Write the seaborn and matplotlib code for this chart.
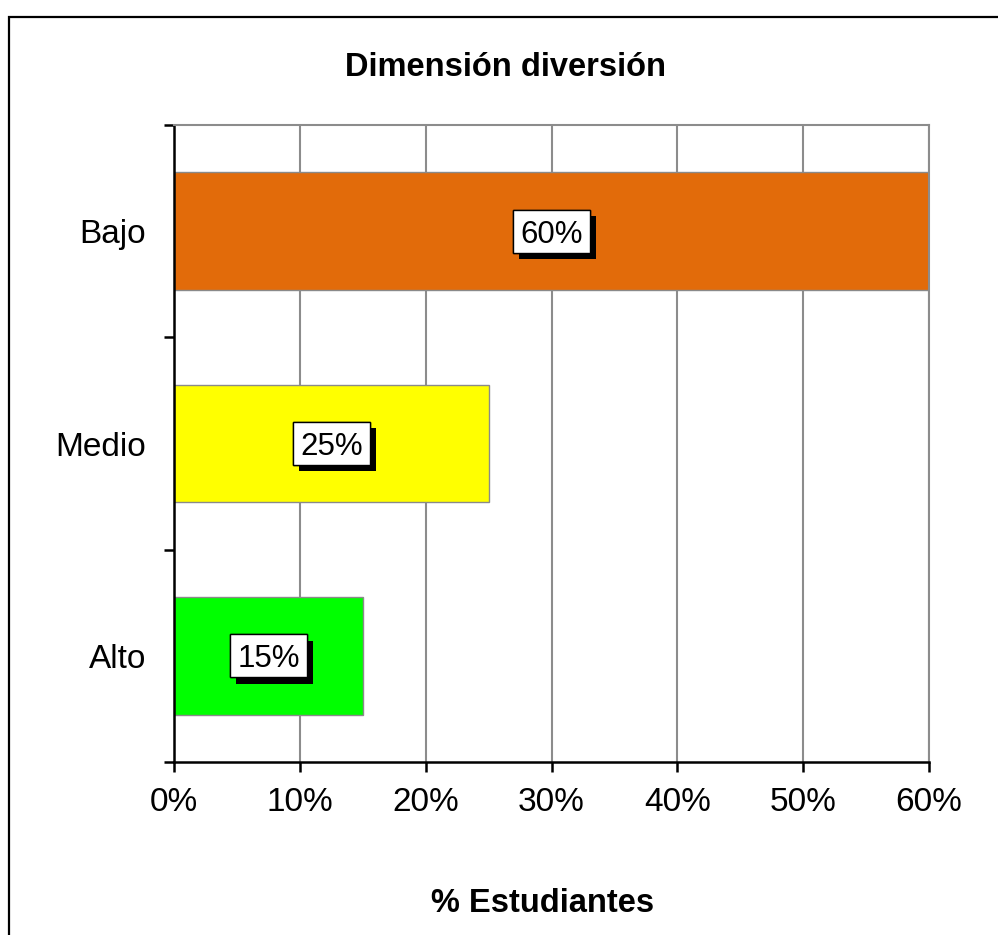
import matplotlib
matplotlib.use("Agg")
import matplotlib.pyplot as plt
import matplotlib.patheffects as pe
import matplotlib.transforms as mtransforms
from matplotlib.patches import Rectangle
from matplotlib.ticker import FixedLocator, PercentFormatter
import seaborn as sns
import pandas as pd

# Data
categories = ["Bajo", "Medio", "Alto"]
values = [60, 25, 15]
bar_colors = ["#E26B0A", "#FFFF00", "#00FF00"]
x_ticks = [0, 10, 20, 30, 40, 50, 60]

sns.set_theme(style="white")
plt.rcParams["font.family"] = ["Liberation Sans", "DejaVu Sans"]

df = pd.DataFrame({"nivel": categories, "pct": values})

fig = plt.figure(figsize=(9.98, 9.35), dpi=100)
fig.patch.set_facecolor("white")
ax = fig.add_axes([174 / 998, 1 - 762 / 935, (929 - 174) / 998, (762 - 125) / 935])

sns.barplot(data=df, y="nivel", x="pct", hue="nivel", palette=bar_colors,
            order=categories, hue_order=categories, orient="h", width=0.555,
            saturation=1, edgecolor="#8a8a8a", linewidth=1.0, legend=False, ax=ax, zorder=2)

ax.set_xlim(0, 60)
ax.set_ylim(2.5, -0.5)
ax.set_xticks(x_ticks)
ax.xaxis.set_major_formatter(PercentFormatter(decimals=0))
ax.set_xlabel("")
ax.set_ylabel("")

# Vertical grid behind the bars
ax.set_axisbelow(True)
ax.grid(axis="x", color="#8c8c8c", linewidth=1.5, zorder=0)
ax.grid(axis="y", visible=False)

# Spines: black left/bottom, gray top/right
for side in ("left", "bottom"):
    ax.spines[side].set_color("black")
    ax.spines[side].set_linewidth(1.8)
for side in ("top", "right"):
    ax.spines[side].set_color("#8c8c8c")
    ax.spines[side].set_linewidth(1.5)

# Category ticks sit between the bars
ax.yaxis.set_minor_locator(FixedLocator([-0.5, 0.5, 1.5, 2.5]))
ax.tick_params(axis="y", which="major", length=0, pad=20, labelsize=24, colors="black")
ax.tick_params(axis="y", which="minor", left=True, direction="out", length=7, width=1.8, color="black")
ax.tick_params(axis="x", which="major", bottom=True, direction="out", length=7, width=1.8,
               color="black", pad=11, labelsize=24, labelcolor="black")

# Value labels: white boxes with a drop shadow, centred on each bar
box_w, box_h = 0.77, 0.43  # inches
for i, v in enumerate(values):
    anchor = fig.dpi_scale_trans + mtransforms.ScaledTranslation(v / 2, i, ax.transData)
    box = Rectangle((-box_w / 2, -box_h / 2), box_w, box_h, transform=anchor,
                    facecolor="white", edgecolor="black", linewidth=1.0, zorder=4,
                    clip_on=False)
    box.set_path_effects([
        pe.withSimplePatchShadow(offset=(4.5, -4.5), shadow_rgbFace="black", alpha=1.0),
        pe.Normal(),
    ])
    ax.add_patch(box)
    ax.text(v / 2, i, f"{v}%", ha="center", va="center_baseline", fontsize=22.5,
            color="black", zorder=5)

# Title and axis caption
fig.text(506 / 998, 1 - 68 / 935, "Dimensión diversión", ha="center", va="center",
         fontsize=23.5, fontweight="bold", color="black")
fig.text(543 / 998, 1 - 903 / 935, "% Estudiantes", ha="center", va="center",
         fontsize=23.5, fontweight="bold", color="black")

# Chart frame
fig.add_artist(Rectangle((9 / 998, -0.5), 2.0, (1 - 17 / 935) + 0.5, transform=fig.transFigure,
                         facecolor="none", edgecolor="black", linewidth=1.6))

fig.savefig("out.png", dpi=100, facecolor="white")
